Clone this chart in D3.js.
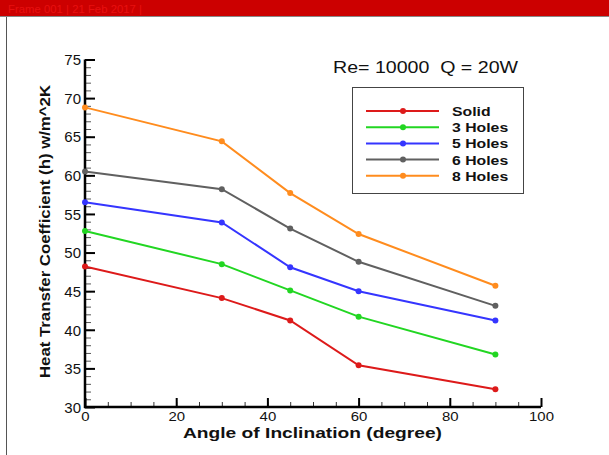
<!DOCTYPE html>
<html>
<head>
<meta charset="utf-8">
<script src="https://cdn.jsdelivr.net/npm/d3@7"></script>
<style>
  body { margin: 0; background: #fff; }
  svg { display: block; font-family: "Liberation Sans", Arial, sans-serif; }
</style>
</head>
<body>
<svg id="chart" width="609" height="455"></svg>
<script>
// angles (degree)
const angles = [0, 30, 45, 60, 90];
const seriesNames = ["Solid", "3 Holes", "5 Holes", "6 Holes", "8 Holes"];
const solid = [48.2, 44.1, 41.2, 35.4, 32.3];
const holes3 = [52.8, 48.5, 45.1, 41.7, 36.8];
const holes5 = [56.5, 53.9, 48.1, 45.0, 41.2];
const holes6 = [60.5, 58.2, 53.1, 48.8, 43.1];
const holes8 = [68.8, 64.4, 57.7, 52.4, 45.7];
const colors = ["#dd1a1a", "#22d622", "#3535ff", "#606060", "#ff8c1e"];
const xTicks = [0, 20, 40, 60, 80, 100];
const yTicks = [30, 35, 40, 45, 50, 55, 60, 65, 70, 75];

const series = [solid, holes3, holes5, holes6, holes8].map((vals, i) => ({
  name: seriesNames[i],
  color: colors[i],
  values: vals.map((v, j) => ({ x: angles[j], y: v })),
}));

const svg = d3.select("#chart");

// header bar
svg.append("rect").attr("x", 0).attr("y", 0).attr("width", 609).attr("height", 16)
  .attr("fill", "#cc0000");
svg.append("line").attr("x1", 0).attr("x2", 609).attr("y1", 16.5).attr("y2", 16.5)
  .attr("stroke", "#888").attr("stroke-width", 1);
svg.append("text").attr("x", 8).attr("y", 13).attr("font-size", "10px")
  .attr("textLength", 134).attr("lengthAdjust", "spacingAndGlyphs")
  .attr("fill", "#e81010").text("Frame 001  |  21 Feb 2017  |");
svg.append("line").attr("x1", 6.5).attr("x2", 6.5).attr("y1", 17).attr("y2", 455)
  .attr("stroke", "#555").attr("stroke-width", 1);

const x = d3.scaleLinear().domain([0, 100]).range([85, 541]);
const y = d3.scaleLinear().domain([30, 75]).range([407, 59.5]);

// minor ticks
const g = svg.append("g");
g.append("g").attr("transform", "translate(0,407)")
  .call(d3.axisTop(x).tickValues(d3.range(0, 101, 5)).tickSize(5).tickFormat(""))
  .call((a) => a.select(".domain").remove())
  .selectAll("line").attr("stroke", "#333").attr("stroke-width", 1);
g.append("g").attr("transform", "translate(85,0)")
  .call(d3.axisRight(y).tickValues(d3.range(30, 76, 1)).tickSize(6).tickFormat(""))
  .call((a) => a.select(".domain").remove())
  .selectAll("line").attr("stroke", "#555").attr("stroke-width", 1);

// major ticks + labels
const xAxis = g.append("g").attr("transform", "translate(0,407)")
  .call(d3.axisTop(x).tickValues(xTicks).tickSize(9).tickPadding(-23));
xAxis.select(".domain").remove();
xAxis.selectAll("line").attr("stroke", "#000").attr("stroke-width", 2);
xAxis.selectAll("text").attr("font-size", "13px").attr("fill", "#111")
  .attr("transform", "scale(1.15,1)")
  .attr("font-family", "Liberation Sans, Arial, sans-serif");

const yAxis = g.append("g").attr("transform", "translate(85,0)")
  .call(d3.axisRight(y).tickValues(yTicks).tickSize(10).tickPadding(-14));
yAxis.select(".domain").remove();
yAxis.selectAll("line").attr("stroke", "#000").attr("stroke-width", 2);
yAxis.selectAll("text").attr("text-anchor", "end").attr("font-size", "15px")
  .attr("fill", "#111").attr("dy", "0.35em")
  .attr("font-family", "Liberation Sans, Arial, sans-serif");

// axis lines
svg.append("line").attr("x1", 85).attr("x2", 85).attr("y1", y(75)).attr("y2", 408)
  .attr("stroke", "#000").attr("stroke-width", 2.5);
svg.append("line").attr("x1", 84).attr("x2", x(100)).attr("y1", 407).attr("y2", 407)
  .attr("stroke", "#000").attr("stroke-width", 2.5);

// lines
const line = d3.line().x((d) => x(d.x)).y((d) => y(d.y));
series.forEach((s) => {
  svg.append("path").datum(s.values).attr("d", line)
    .attr("fill", "none").attr("stroke", s.color).attr("stroke-width", 2);
  svg.append("g").selectAll("circle").data(s.values).enter().append("circle")
    .attr("cx", (d) => x(d.x)).attr("cy", (d) => y(d.y)).attr("r", 3)
    .attr("fill", s.color);
});

// title
svg.append("text").attr("x", 333).attr("y", 73).attr("font-size", "16.5px")
  .attr("textLength", 185).attr("lengthAdjust", "spacingAndGlyphs")
  .attr("fill", "#111").attr("xml:space", "preserve").text("Re= 10000  Q = 20W");

// legend
svg.append("rect").attr("x", 352.5).attr("y", 87.5).attr("width", 171).attr("height", 106)
  .attr("fill", "#fff").attr("stroke", "#444").attr("stroke-width", 1);
const leg = svg.append("g").selectAll("g").data(series).enter().append("g")
  .attr("transform", (d, i) => "translate(0," + (111 + i * 16.2) + ")");
leg.append("line").attr("x1", 366).attr("x2", 439).attr("y1", 0).attr("y2", 0)
  .attr("stroke", (d) => d.color).attr("stroke-width", 2);
leg.append("circle").attr("cx", 403).attr("cy", 0).attr("r", 3)
  .attr("fill", (d) => d.color);
leg.append("text").attr("transform", "translate(452,5) scale(1.17,1)")
  .attr("font-size", "13.5px")
  .attr("font-weight", "bold").attr("fill", "#111").text((d) => d.name);

// axis titles
svg.append("text").attr("x", 312.5).attr("y", 438).attr("text-anchor", "middle")
  .attr("font-size", "15.5px").attr("font-weight", "bold").attr("fill", "#111")
  .attr("textLength", 259).attr("lengthAdjust", "spacingAndGlyphs")
  .text("Angle of Inclination (degree)");
svg.append("text").attr("transform", "translate(50,231.5) rotate(-90)")
  .attr("text-anchor", "middle").attr("font-size", "15.5px").attr("font-weight", "bold")
  .attr("textLength", 293).attr("lengthAdjust", "spacingAndGlyphs")
  .attr("fill", "#111").text("Heat Transfer Coefficient (h) w/m^2K");
</script>
</body>
</html>
